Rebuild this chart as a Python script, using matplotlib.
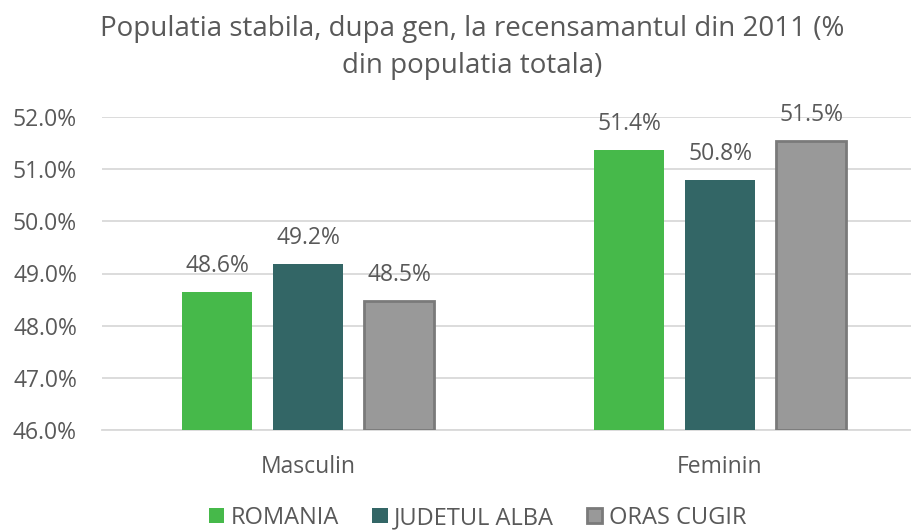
import numpy as np
import matplotlib
matplotlib.use('Agg')
import matplotlib.pyplot as plt

categories = ['Masculin', 'Feminin']
series_names = ['ROMANIA', 'JUDETUL ALBA', 'ORAS CUGIR']
romania = [48.64, 51.36]
alba = [49.18, 50.80]
cugir = [48.48, 51.54]
labels = [['48.6%', '51.4%'], ['49.2%', '50.8%'], ['48.5%', '51.5%']]

plt.rcParams['font.family'] = ['Open Sans', 'DejaVu Sans']
txt = '#595959'

fig = plt.figure(figsize=(9.12, 5.30), dpi=100)
# axes from x=102px to right edge, y 117..430 px
ax = fig.add_axes([102 / 912, 1 - 430 / 530, 810 / 912, 313 / 530])

x = np.arange(len(categories))
width = 0.172
step = 0.221
colors = ['#46b94a', '#336666', '#999999']
edges = ['#46b94a', '#336666', '#7a7a7a']
lws = [0, 0, 2]
for i, (vals, name) in enumerate(zip([romania, alba, cugir], series_names)):
    pos = x + (i - 1) * step
    bars = ax.bar(pos, np.array(vals) - 46, width, bottom=46, color=colors[i],
                  edgecolor=edges[i], linewidth=lws[i], label=name, zorder=3)
    for b, v, lab in zip(bars, vals, labels[i]):
        ax.text(b.get_x() + b.get_width() / 2, v + 0.27, lab, ha='center', va='bottom',
                fontsize=16.5, color=txt)

ax.set_ylim(46, 52)
ax.set_xlim(-0.5, 1.466)
ax.set_yticks(np.arange(46, 52.01, 1))
ax.set_yticklabels(['%.1f%%' % v for v in np.arange(46, 52.01, 1)])
ax.set_xticks(x)
ax.set_xticklabels(categories)
ax.tick_params(axis='both', length=0, labelsize=16.5, colors=txt)
ax.tick_params(axis='x', pad=18)
ax.tick_params(axis='y', pad=18)
ax.grid(axis='y', color='#d9d9d9', linewidth=1.3, zorder=0)
for s in ['top', 'right', 'left']:
    ax.spines[s].set_visible(False)
ax.spines['bottom'].set_color('#d9d9d9')
ax.spines['bottom'].set_linewidth(1.3)

fig.suptitle('Populatia stabila, dupa gen, la recensamantul din 2011 (%\ndin populatia totala)',
             fontsize=20, color=txt, x=0.518, y=0.972, va='top', linespacing=1.42)

leg = fig.legend(loc='lower center', bbox_to_anchor=(0.524, -0.04), ncol=3, frameon=False,
                 fontsize=17, labelcolor=txt, handlelength=0.64, handleheight=0.64,
                 columnspacing=1.4, handletextpad=0.28)

fig.savefig('out.png', dpi=100)
